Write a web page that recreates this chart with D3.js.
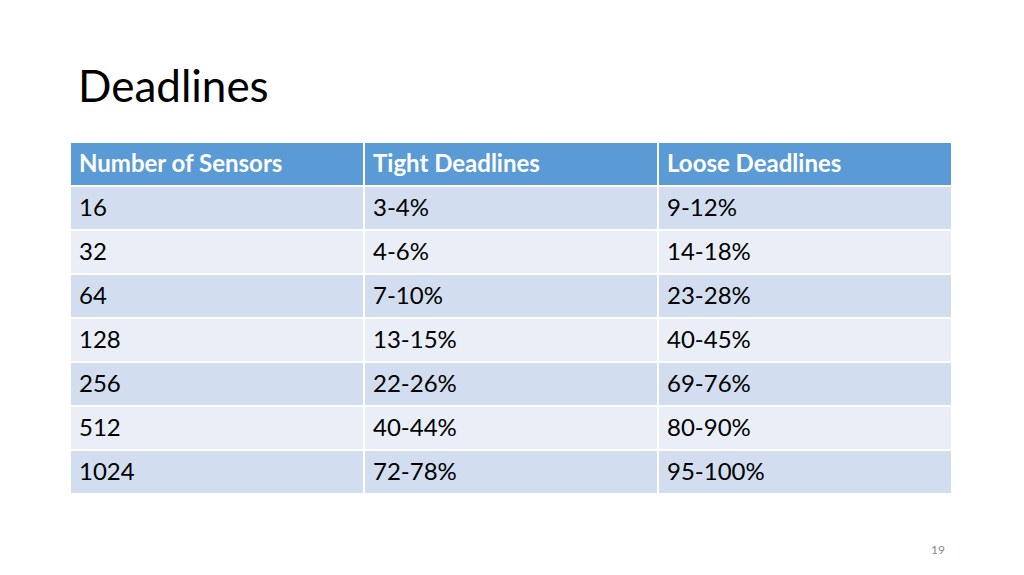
<!DOCTYPE html>
<html><head><meta charset="utf-8">
<script src="https://cdn.jsdelivr.net/npm/d3@7"></script>
<style>body{margin:0;background:#fff}</style>
</head><body>
<svg id="slide" width="1024" height="575"></svg>
<script>
// table content
var headers = ['Number of Sensors', 'Tight Deadlines', 'Loose Deadlines'];
var sensors = ['16', '32', '64', '128', '256', '512', '1024'];
var tight = ['3-4%', '4-6%', '7-10%', '13-15%', '22-26%', '40-44%', '72-78%'];
var loose = ['9-12%', '14-18%', '23-28%', '40-45%', '69-76%', '80-90%', '95-100%'];

var svg = d3.select('#slide');
var font = 'Lato, "Open Sans", sans-serif';

svg.append('text').attr('x', 78).attr('y', 102)
    .attr('font-family', font).attr('font-size', 44).attr('fill', '#000')
    .text('Deadlines');

var rows = [headers].concat(sensors.map(function(s, i) { return [s, tight[i], loose[i]]; }));

var x = d3.scaleOrdinal().domain([0, 1, 2]).range([70, 364, 658]);
var colW = [294, 294, 294];
var y = d3.scaleBand().domain(d3.range(rows.length)).range([142, 494]);

var g = svg.append('g');
rows.forEach(function(r, ri) {
    var fill = ri === 0 ? '#5B9BD5' : (ri % 2 ? '#D2DEEF' : '#EAEFF7');
    r.forEach(function(cell, ci) {
        g.append('rect')
            .attr('x', x(ci)).attr('y', y(ri))
            .attr('width', colW[ci]).attr('height', y.bandwidth())
            .attr('fill', fill).attr('stroke', '#fff').attr('stroke-width', 2);
        g.append('text')
            .attr('x', x(ci) + 9).attr('y', y(ri) + y.bandwidth() / 2 + 8)
            .attr('font-family', font).attr('font-size', 24)
            .attr('font-weight', ri === 0 ? 'bold' : 'normal')
            .attr('fill', ri === 0 ? '#fff' : '#000')
            .text(cell);
    });
});

svg.append('text').attr('x', 945).attr('y', 554).attr('text-anchor', 'end')
    .attr('font-family', font).attr('font-size', 12).attr('fill', '#8b8b8b')
    .text('19');
</script>
</body></html>
